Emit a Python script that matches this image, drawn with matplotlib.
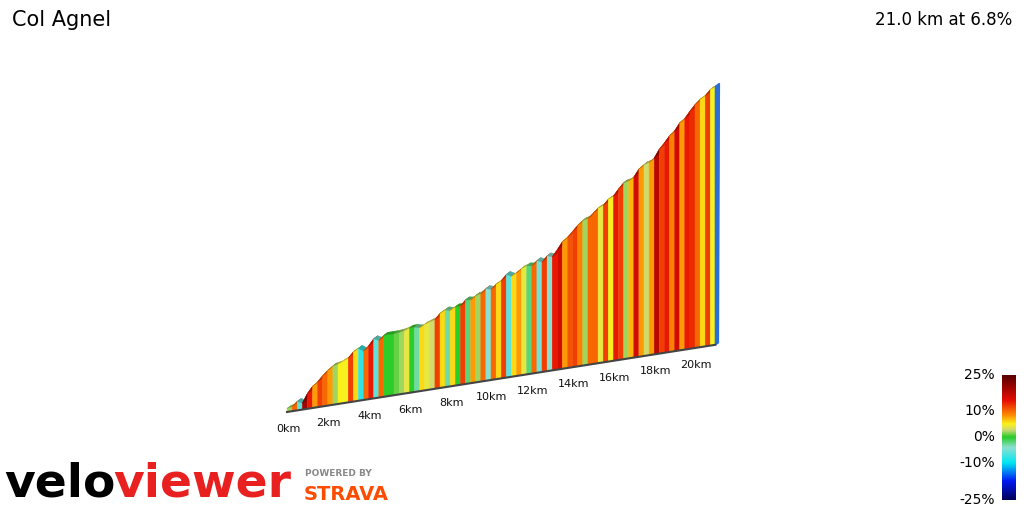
import numpy as np
import matplotlib
matplotlib.use("Agg")
import matplotlib.pyplot as plt
from matplotlib.colors import LinearSegmentedColormap
from matplotlib.patches import Polygon

title = "Col Agnel"
summary = "21.0 km at 6.8%"
seg_km = 0.25
gradients = [
    2, 10, -6, 20,   14, 8, 12, 10,   8, 2, 5, 5,   12, 6, -8, 10,
    14, -6, 10, 0,   0, 1, 2, 4,   0, -3, 6, 4,   3, 12, 6, -3,
    6, 0, 12, -2,   8, 2, 10, -4,   10, 6, 12, -6,   6, 8, 4, -2,
    10, -5, 12, -4,   14, 16, 8, 11,   12, 9, 2, 10,   10, 4, 12, 5,
    14, 12, 2, 7,   16, 8, 3, 8,   18, 12, 14, 9,   16, 8, 14, 13,
    10, 6, 12, 5,
]
km_ticks = [0, 2, 4, 6, 8, 10, 12, 14, 16, 18, 20]
cbar_ticks = [25, 10, 0, -10, -25]
cbar_pos = [1.0, 0.712, 0.504, 0.296, 0.0]

cmap = LinearSegmentedColormap.from_list("vv", [
    (0.0, (0.0, 0.0, 0.35)), (0.15, (0.0, 0.1, 0.95)), (0.296, (0.0, 0.9, 0.95)),
    (0.42, (0.55, 0.88, 0.82)), (0.504, (0.15, 0.8, 0.15)), (0.56, (0.8, 0.85, 0.45)),
    (0.61, (0.98, 0.95, 0.1)), (0.68, (1.0, 0.55, 0.0)), (0.8, (0.9, 0.05, 0.0)),
    (1.0, (0.35, 0.0, 0.0))])

def gfrac(g):
    return np.interp(g, [-25, -10, 0, 10, 25], [0, 0.296, 0.504, 0.712, 1.0])

dist = np.arange(len(gradients) + 1) * seg_km
elev = np.concatenate([[0], np.cumsum(np.array(gradients) / 100 * seg_km * 1000)]) + 20

def proj(d, h):
    return 287 + d * 20.4, 412 - d * 3.2 - h * 0.181

fig = plt.figure(figsize=(10.24, 5.12), dpi=100)
ax = fig.add_axes([0, 0, 1, 1])
ax.set_xlim(0, 1024); ax.set_ylim(512, 0); ax.axis("off")

for i, g in enumerate(gradients):
    c = cmap(gfrac(g))
    bx0, by0 = proj(dist[i], 0); bx1, by1 = proj(dist[i + 1], 0)
    tx0, ty0 = proj(dist[i], elev[i]); tx1, ty1 = proj(dist[i + 1], elev[i + 1])
    ax.add_patch(Polygon([(bx0, by0), (bx1, by1), (tx1, ty1), (tx0, ty0)],
                         closed=True, fc=c, ec=c, lw=0.3))
    dc = tuple(np.array(c[:3]) * 0.75)
    ax.add_patch(Polygon([(tx0, ty0), (tx1, ty1), (tx1 + 4, ty1 - 3), (tx0 + 4, ty0 - 3)],
                         closed=True, fc=dc, ec=dc, lw=0.3))
ex, ey = proj(dist[-1], 0); tx, ty = proj(dist[-1], elev[-1])
ax.add_patch(Polygon([(ex, ey), (tx, ty), (tx + 4, ty - 3), (ex + 3, ey - 2)],
                     closed=True, fc="#2a6fd8", ec="#2a6fd8"))
bx0, by0 = proj(0, 0); bx1, by1 = proj(dist[-1], 0)
ax.plot([bx0, bx1], [by0, by1], color="#444444", lw=1.5)
for k in km_ticks:
    x, y = proj(k, 0)
    ax.text(x + 1, y + 17, f"{k}km", fontsize=8, ha="center", va="center", color="#111111")

ax.text(12, 20, title, fontsize=15, va="center", ha="left")
ax.text(1012, 20, summary, fontsize=12, va="center", ha="right")

grad = np.linspace(1, 0, 200)[:, None]
ax.imshow(grad, cmap=cmap, vmin=0, vmax=1, extent=[1002, 1016, 500, 375], aspect="auto")
for t, p in zip(cbar_ticks, cbar_pos):
    ax.text(995, 500 - p * 125, f"{t}%", fontsize=10, ha="right", va="center")

r = fig.canvas.get_renderer()
t1 = ax.text(4, 484, "velo", fontsize=34, fontweight="bold", color="black", va="center", ha="left")
bb = t1.get_window_extent(r)
ax.text(bb.x1 - 2, 484, "viewer", fontsize=34, fontweight="bold", color="#e8201f", va="center", ha="left")
ax.text(305, 474, "POWERED BY", fontsize=6.5, fontweight="bold", color="#888888", va="center")
ax.text(304, 494, "STRAVA", fontsize=14, fontweight="bold", color="#fc4c02", va="center")
fig.savefig("out.png", dpi=100)
